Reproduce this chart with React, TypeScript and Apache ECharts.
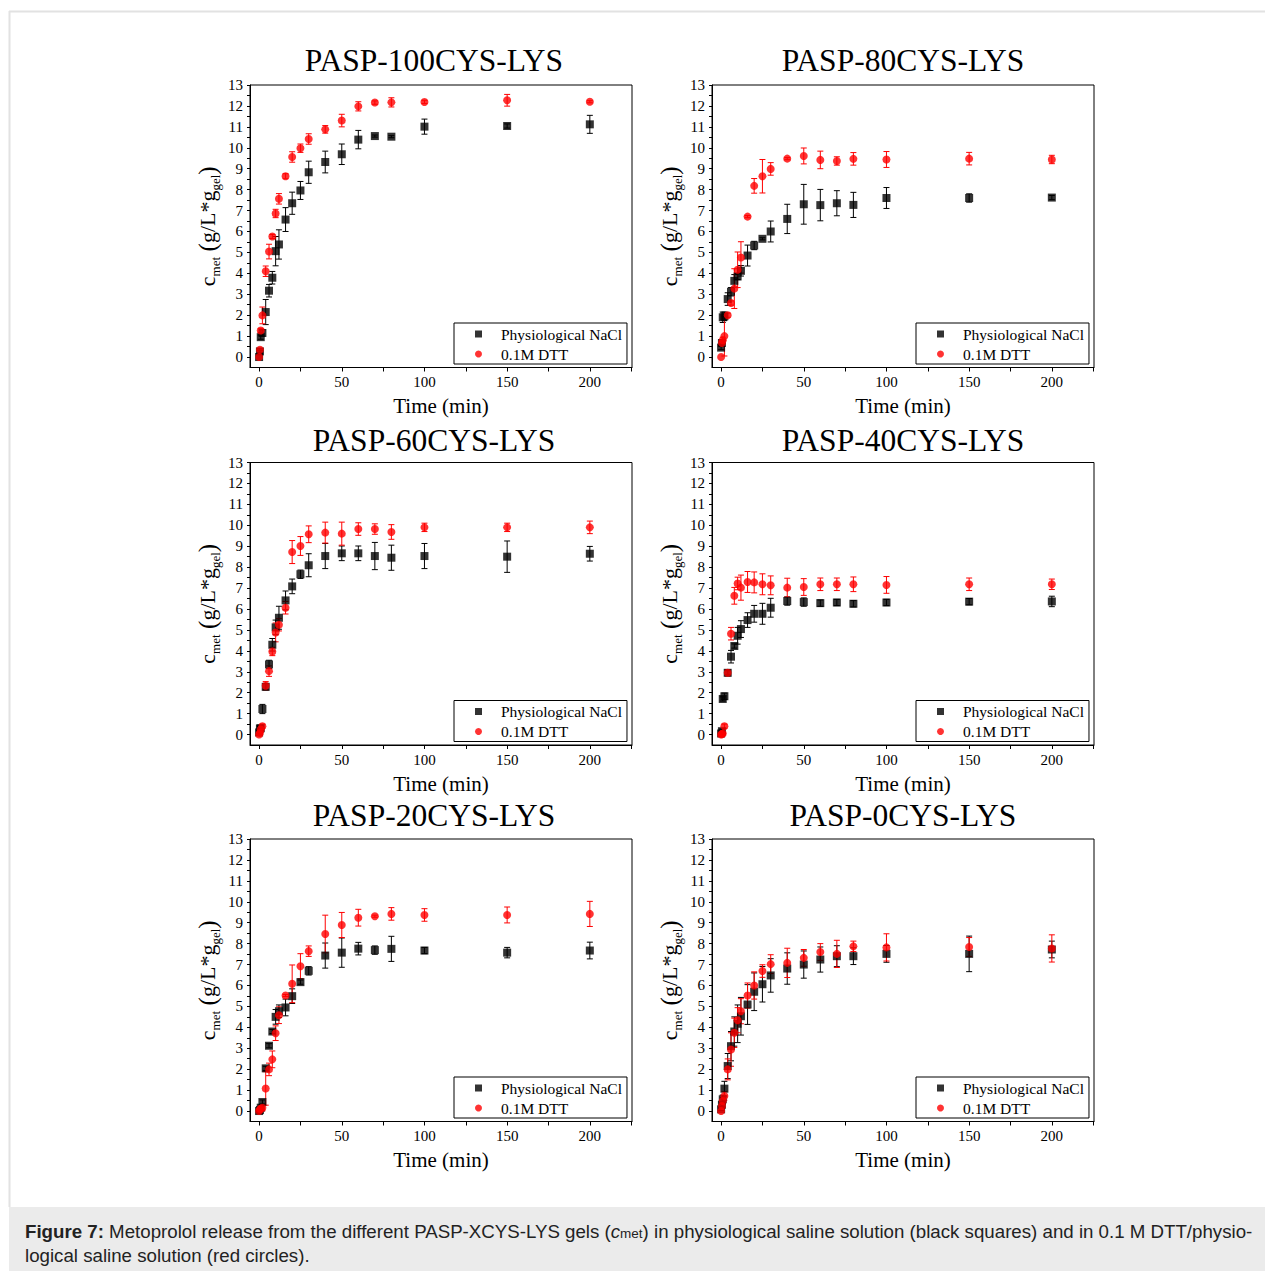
import React, { useEffect, useRef } from 'react';
import * as echarts from 'echarts';

// Sampling times (min)
const TIMES = [0, 0.5, 1, 2, 4, 6, 8, 10, 12, 16, 20, 25, 30, 40, 50, 60, 70, 80, 100, 150, 200];

const TITLES = ['PASP-100CYS-LYS', 'PASP-80CYS-LYS', 'PASP-60CYS-LYS', 'PASP-40CYS-LYS', 'PASP-20CYS-LYS', 'PASP-0CYS-LYS'];
const SERIES_NAMES = ['Physiological NaCl', '0.1M DTT'];

// PASP-100CYS-LYS
const NACL_100 = [0.0, 0.27, 0.95, 1.15, 2.15, 3.17, 3.79, 5.06, 5.38, 6.57, 7.35, 7.96, 8.83, 9.32, 9.69, 10.39, 10.56, 10.53, 11.01, 11.04, 11.12];
const NACL_100_ERR = [0, 0.05, 0.1, 0.15, 0.6, 0.3, 0.3, 0.7, 0.7, 0.57, 0.53, 0.43, 0.53, 0.52, 0.49, 0.44, 0.05, 0.05, 0.36, 0.1, 0.43];
const DTT_100 = [0.0, 0.35, 1.27, 1.99, 4.1, 5.04, 5.76, 6.86, 7.56, 8.64, 9.56, 9.98, 10.42, 10.88, 11.3, 11.98, 12.16, 12.17, 12.19, 12.27, 12.2];
const DTT_100_ERR = [0, 0.05, 0.1, 0.4, 0.25, 0.35, 0.1, 0.2, 0.25, 0.12, 0.25, 0.2, 0.25, 0.18, 0.3, 0.22, 0.08, 0.22, 0.08, 0.28, 0.05];

// PASP-80CYS-LYS
const NACL_80 = [0.45, 0.67, 1.9, 1.95, 2.77, 3.12, 3.64, 3.85, 4.12, 4.85, 5.33, 5.65, 6.0, 6.6, 7.3, 7.26, 7.35, 7.27, 7.6, 7.6, 7.62];
const NACL_80_ERR = [0.1, 0.15, 0.25, 0.2, 0.3, 0.2, 0.3, 0.15, 0.25, 0.5, 0.2, 0.05, 0.5, 0.7, 0.95, 0.75, 0.6, 0.6, 0.5, 0.2, 0.1];
const DTT_80 = [0.0, 0.67, 0.8, 1.0, 2.0, 2.58, 3.27, 4.17, 4.76, 6.71, 8.18, 8.64, 8.99, 9.48, 9.61, 9.42, 9.37, 9.47, 9.44, 9.48, 9.44];
const DTT_80_ERR = [0, 0.1, 0.15, 0.95, 0.1, 0.1, 0.95, 0.85, 0.75, 0.05, 0.35, 0.8, 0.3, 0.05, 0.38, 0.42, 0.2, 0.3, 0.38, 0.3, 0.2];

// PASP-60CYS-LYS
const NACL_60 = [0.1, 0.29, 0.3, 1.22, 2.28, 3.35, 4.29, 5.12, 5.58, 6.41, 7.08, 7.66, 8.09, 8.53, 8.66, 8.66, 8.53, 8.45, 8.53, 8.5, 8.64];
const NACL_60_ERR = [0.05, 0.1, 0.1, 0.22, 0.15, 0.2, 0.3, 0.35, 0.55, 0.45, 0.35, 0.2, 0.55, 0.6, 0.35, 0.35, 0.65, 0.6, 0.6, 0.75, 0.35];
const DTT_60 = [0.0, 0.08, 0.24, 0.4, 2.33, 3.03, 3.97, 4.88, 5.25, 6.06, 8.72, 9.01, 9.57, 9.65, 9.6, 9.82, 9.82, 9.68, 9.9, 9.9, 9.9];
const DTT_60_ERR = [0, 0.05, 0.05, 0.1, 0.2, 0.25, 0.2, 0.45, 0.3, 0.3, 0.55, 0.45, 0.4, 0.5, 0.55, 0.3, 0.25, 0.35, 0.2, 0.2, 0.3];

// PASP-40CYS-LYS
const NACL_40 = [0.05, 0.16, 1.7, 1.83, 2.95, 3.72, 4.23, 4.72, 5.04, 5.47, 5.77, 5.77, 6.06, 6.38, 6.33, 6.28, 6.31, 6.25, 6.31, 6.35, 6.36];
const NACL_40_ERR = [0.05, 0.1, 0.1, 0.15, 0.1, 0.3, 0.1, 0.4, 0.4, 0.35, 0.4, 0.5, 0.45, 0.2, 0.2, 0.15, 0.15, 0.15, 0.15, 0.15, 0.25];
const DTT_40 = [0.0, 0.02, 0.05, 0.4, 2.95, 4.82, 6.63, 7.22, 7.02, 7.29, 7.27, 7.18, 7.13, 7.02, 7.05, 7.18, 7.18, 7.18, 7.15, 7.18, 7.18];
const DTT_40_ERR = [0, 0.02, 0.05, 0.1, 0.15, 0.3, 0.4, 0.3, 0.6, 0.5, 0.5, 0.5, 0.45, 0.45, 0.4, 0.3, 0.3, 0.35, 0.4, 0.3, 0.25];

// PASP-20CYS-LYS
const NACL_20 = [0.0, 0.05, 0.16, 0.43, 2.04, 3.12, 3.8, 4.5, 4.77, 4.95, 5.49, 6.16, 6.7, 7.43, 7.57, 7.76, 7.69, 7.75, 7.67, 7.57, 7.67];
const NACL_20_ERR = [0, 0.02, 0.05, 0.1, 0.1, 0.1, 0.1, 0.35, 0.3, 0.4, 0.35, 0.1, 0.2, 0.6, 0.7, 0.3, 0.2, 0.6, 0.15, 0.25, 0.4];
const DTT_20 = [0.0, 0.08, 0.11, 0.16, 1.08, 1.99, 2.47, 3.72, 4.58, 5.52, 6.08, 6.92, 7.64, 8.46, 8.89, 9.24, 9.31, 9.42, 9.37, 9.37, 9.42];
const DTT_20_ERR = [0, 0.03, 0.05, 0.15, 0.8, 0.3, 0.4, 0.35, 0.4, 0.05, 0.9, 0.6, 0.25, 0.9, 0.6, 0.4, 0.05, 0.3, 0.3, 0.38, 0.6];

// PASP-0CYS-LYS
const NACL_0 = [0.08, 0.3, 0.56, 1.07, 2.15, 3.1, 3.8, 4.17, 4.53, 5.09, 5.7, 6.06, 6.48, 6.81, 7.0, 7.24, 7.4, 7.4, 7.51, 7.51, 7.72];
const NACL_0_ERR = [0.05, 0.1, 0.2, 0.35, 0.6, 0.7, 0.7, 0.9, 0.9, 0.95, 0.9, 0.85, 0.8, 0.75, 0.65, 0.6, 0.5, 0.4, 0.4, 0.85, 0.4];
const DTT_0 = [0.0, 0.24, 0.48, 0.72, 1.99, 2.94, 3.74, 4.34, 4.77, 5.52, 6.0, 6.69, 7.02, 7.08, 7.32, 7.6, 7.51, 7.87, 7.82, 7.84, 7.77];
const DTT_0_ERR = [0, 0.1, 0.15, 0.2, 0.5, 0.8, 0.7, 0.6, 0.6, 0.6, 0.65, 0.3, 0.45, 0.7, 0.4, 0.4, 0.65, 0.25, 0.65, 0.45, 0.65];

// Axis ticks / labels
const X_TICKS = [0, 25, 50, 75, 100, 125, 150, 175, 200, 225];
const X_LABELS = [0, 50, 100, 150, 200];
const Y_TICKS = [0, 0.5, 1, 1.5, 2, 2.5, 3, 3.5, 4, 4.5, 5, 5.5, 6, 6.5, 7, 7.5, 8, 8.5, 9, 9.5, 10, 10.5, 11, 11.5, 12, 12.5, 13];
const Y_LABELS = [0, 1, 2, 3, 4, 5, 6, 7, 8, 9, 10, 11, 12, 13];

const PANELS = [
  { nacl: NACL_100, naclErr: NACL_100_ERR, dtt: DTT_100, dttErr: DTT_100_ERR },
  { nacl: NACL_80, naclErr: NACL_80_ERR, dtt: DTT_80, dttErr: DTT_80_ERR },
  { nacl: NACL_60, naclErr: NACL_60_ERR, dtt: DTT_60, dttErr: DTT_60_ERR },
  { nacl: NACL_40, naclErr: NACL_40_ERR, dtt: DTT_40, dttErr: DTT_40_ERR },
  { nacl: NACL_20, naclErr: NACL_20_ERR, dtt: DTT_20, dttErr: DTT_20_ERR },
  { nacl: NACL_0, naclErr: NACL_0_ERR, dtt: DTT_0, dttErr: DTT_0_ERR },
];

const SERIF = '"Liberation Serif", "Times New Roman", serif';
const SANS = '"Liberation Sans", Arial, sans-serif';

const GRID_LEFTS = [250, 712];
const GRID_TOPS = [85, 462.5, 839];
const GRID_W = 382;
const GRID_H = 282.5;
const TITLE_X = [434, 903];
const TITLE_Y = [60, 440, 815];

function errRender(color: string) {
  return (params: any, api: any) => {
    const x = api.value(0);
    const y = api.value(1);
    const e = api.value(2);
    if (!(e > 0)) return { type: 'group', children: [] };
    const top = api.coord([x, y + e]);
    const bot = api.coord([x, y - e]);
    const hw = 3;
    const style = { stroke: color, lineWidth: 1 };
    return {
      type: 'group',
      children: [
        { type: 'line', shape: { x1: top[0], y1: top[1], x2: bot[0], y2: bot[1] }, style },
        { type: 'line', shape: { x1: top[0] - hw, y1: top[1], x2: top[0] + hw, y2: top[1] }, style },
        { type: 'line', shape: { x1: bot[0] - hw, y1: bot[1], x2: bot[0] + hw, y2: bot[1] }, style },
      ],
    };
  };
}

function buildOption() {
  const grid: any[] = [];
  const xAxis: any[] = [];
  const yAxis: any[] = [];
  const series: any[] = [];
  const legend: any[] = [];
  const graphic: any[] = [];

  PANELS.forEach((p, i) => {
    const col = i % 2;
    const row = Math.floor(i / 2);
    const left = GRID_LEFTS[col];
    const top = GRID_TOPS[row];
    grid.push({
      left, top, width: GRID_W, height: GRID_H,
      show: true, borderColor: '#000', borderWidth: 1, backgroundColor: 'transparent',
    });
    xAxis.push({
      type: 'value', gridIndex: i, min: -5.5, max: 225.5, position: 'bottom',
      axisLine: { show: true, onZero: false, lineStyle: { color: '#000', width: 1 } },
      axisTick: { show: true, customValues: X_TICKS, length: 4, inside: false, lineStyle: { color: '#000', width: 1 } },
      axisLabel: { customValues: X_LABELS, fontSize: 15, fontFamily: SERIF, color: '#000', margin: 7 },
      splitLine: { show: false },
      name: 'Time (min)', nameLocation: 'middle', nameGap: 28,
      nameTextStyle: { fontSize: 21, fontFamily: SERIF, color: '#000' },
    });
    yAxis.push({
      type: 'value', gridIndex: i, min: -0.5, max: 13, position: 'left',
      axisLine: { show: true, onZero: false, lineStyle: { color: '#000', width: 1 } },
      axisTick: { show: true, customValues: Y_TICKS, length: 3, inside: false, lineStyle: { color: '#000', width: 1 } },
      axisLabel: { customValues: Y_LABELS, fontSize: 15, fontFamily: SERIF, color: '#000', margin: 7 },
      splitLine: { show: false },
      name: '{m|c}{s|met}{m| }{p|(}{m|g/L*g}{s|gel}{p|)}',
      nameLocation: 'middle', nameGap: 28, nameRotate: 90,
      nameTextStyle: {
        fontFamily: SERIF, color: '#000',
        rich: {
          m: { fontSize: 22, fontFamily: SERIF, color: '#000', lineHeight: 30, verticalAlign: 'middle' },
          p: { fontSize: 25, fontFamily: SERIF, color: '#000', lineHeight: 30, verticalAlign: 'middle' },
          s: { fontSize: 13, fontFamily: SERIF, color: '#000', lineHeight: 8, verticalAlign: 'bottom' },
        },
      },
    });
    series.push({
      type: 'custom', name: 'nacl-err-' + i, xAxisIndex: i, yAxisIndex: i, silent: true,
      renderItem: errRender('#000'), encode: { x: 0, y: 1 },
      data: TIMES.map((t, k) => [t, p.nacl[k], p.naclErr[k]]),
    });
    series.push({
      type: 'scatter', name: SERIES_NAMES[0], xAxisIndex: i, yAxisIndex: i, silent: true,
      symbol: 'rect', symbolSize: 8, itemStyle: { color: '#000' },
      data: TIMES.map((t, k) => [t, p.nacl[k]]),
    });
    series.push({
      type: 'custom', name: 'dtt-err-' + i, xAxisIndex: i, yAxisIndex: i, silent: true,
      renderItem: errRender('#ff0000'), encode: { x: 0, y: 1 },
      data: TIMES.map((t, k) => [t, p.dtt[k], p.dttErr[k]]),
    });
    series.push({
      type: 'scatter', name: SERIES_NAMES[1], xAxisIndex: i, yAxisIndex: i, silent: true,
      symbol: 'circle', symbolSize: 8, itemStyle: { color: '#ff0000' },
      data: TIMES.map((t, k) => [t, p.dtt[k]]),
    });
    legend.push({
      left: left + 204, top: top + 238, orient: 'vertical',
      padding: [3, 5, 2, 21], itemGap: 4, itemWidth: 35, itemHeight: 7,
      borderColor: '#000', borderWidth: 1, borderRadius: 0, backgroundColor: '#fff',
      selectedMode: false,
      textStyle: { fontFamily: SERIF, fontSize: 15.5, color: '#000', lineHeight: 15 },
      data: [
        { name: SERIES_NAMES[0], icon: 'path://M0,0H10V10H0Z' },
        { name: SERIES_NAMES[1], icon: 'circle' },
      ],
    });
    graphic.push({
      type: 'text', x: TITLE_X[col], y: TITLE_Y[row], silent: true,
      style: { text: TITLES[i], fill: '#000', font: '31.5px ' + SERIF, align: 'center', verticalAlign: 'middle' },
    });
  });

  // Figure frame and caption
  graphic.push({ type: 'line', silent: true, shape: { x1: 9, y1: 11.5, x2: 1265, y2: 11.5 }, style: { stroke: '#e2e2e2', lineWidth: 2 } });
  graphic.push({ type: 'line', silent: true, shape: { x1: 9.5, y1: 11, x2: 9.5, y2: 1207 }, style: { stroke: '#e2e2e2', lineWidth: 2 } });
  graphic.push({ type: 'rect', silent: true, shape: { x: 9, y: 1207, width: 1256, height: 64 }, style: { fill: '#ebebeb' } });
  graphic.push({
    type: 'text', x: 25, y: 1231, silent: true,
    style: {
      text: '{b|Figure 7:} Metoprolol release from the different PASP-XCYS-LYS gels ({i|c}{sub|met}) in physiological saline solution (black squares) and in 0.1 M DTT/physio-',
      font: '18.7px ' + SANS, fill: '#222', verticalAlign: 'middle',
      rich: {
        b: { font: 'bold 18.7px ' + SANS, fill: '#222' },
        i: { font: 'italic 18.7px ' + SANS, fill: '#222' },
        sub: { font: '13.5px ' + SANS, fill: '#222', verticalAlign: 'bottom', lineHeight: 6 },
      },
    },
  });
  graphic.push({
    type: 'text', x: 25, y: 1255, silent: true,
    style: { text: 'logical saline solution (red circles).', font: '18.7px ' + SANS, fill: '#222', verticalAlign: 'middle' },
  });

  return {
    animation: false,
    backgroundColor: '#fff',
    textStyle: { fontFamily: SERIF },
    grid, xAxis, yAxis, series, legend, graphic,
  };
}

export default function App() {
  const ref = useRef<HTMLDivElement>(null);
  useEffect(() => {
    if (!ref.current) return;
    const chart = echarts.init(ref.current, null, { renderer: 'svg' });
    chart.setOption(buildOption() as any);
    return () => chart.dispose();
  }, []);
  return <div ref={ref} style={{ position: 'absolute', left: 0, top: 0, width: 1265, height: 1271 }} />;
}
